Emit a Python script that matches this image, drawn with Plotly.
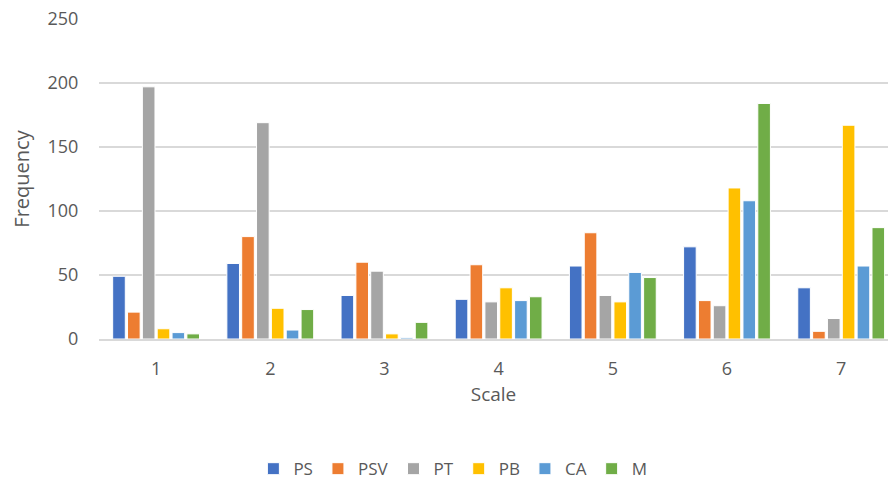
import plotly.graph_objects as go

categories = ["1", "2", "3", "4", "5", "6", "7"]
PS = [49, 59, 34, 31, 57, 72, 40]
PSV = [21, 80, 60, 58, 83, 30, 6]
PT = [197, 169, 53, 29, 34, 26, 16]
PB = [8, 24, 4, 40, 29, 118, 167]
CA = [5, 7, 1, 30, 52, 108, 57]
M = [4, 23, 13, 33, 48, 184, 87]

series = [("PS", PS, "#4472C4"), ("PSV", PSV, "#ED7D31"), ("PT", PT, "#A5A5A5"),
          ("PB", PB, "#FFC000"), ("CA", CA, "#5B9BD5"), ("M", M, "#70AD47")]

font = "Open Sans"
fig = go.Figure()
for name, vals, col in series:
    fig.add_trace(go.Bar(x=categories, y=vals, name=name, marker_color=col,
                         marker_line_color="white", marker_line_width=1))

fig.update_layout(
    width=888, height=483,
    margin=dict(l=99, r=0, t=19, b=144, autoexpand=False),
    paper_bgcolor="white", plot_bgcolor="white",
    barmode="group", bargap=0.22, bargroupgap=0.15,
    font=dict(family=font, size=18, color="#595959"),
    legend=dict(orientation="h", xref="container", yref="container",
                x=0.51, xanchor="center", y=0.066, yanchor="top",
                font=dict(size=17, color="#595959"), itemwidth=30,
                traceorder="normal"),
    xaxis=dict(type="category", range=[-0.5, 6.41], showgrid=False, automargin=False,
               showline=True, linecolor="#d9d9d9", linewidth=1.5,
               ticks="outside", ticklen=13, tickcolor="rgba(0,0,0,0)",
               tickfont=dict(size=18),
               title=dict(text="Scale", font=dict(size=19, color="#595959"), standoff=8)),
    yaxis=dict(range=[0, 250], dtick=50, showgrid=True, gridcolor="#d9d9d9", automargin=False,
               gridwidth=1.5, zeroline=False, ticks="outside", ticklen=16,
               tickcolor="rgba(0,0,0,0)", tickfont=dict(size=18),
               title=dict(text="Frequency", font=dict(size=20, color="#595959"), standoff=12)),
)

fig.write_html("out.html", config={"displayModeBar": False},
               post_script="document.body.style.margin='0';document.body.style.overflow='hidden';")
